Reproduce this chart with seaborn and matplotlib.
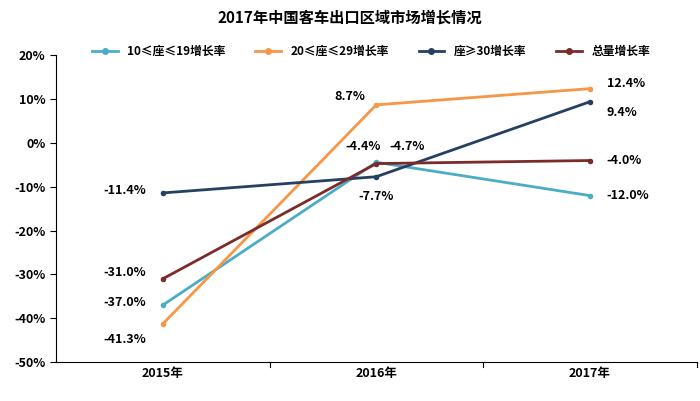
import matplotlib
matplotlib.use("Agg")
import matplotlib.pyplot as plt
import seaborn as sns
import pandas as pd

plt.rcParams["font.family"] = "Noto Sans CJK SC"

years = ["2015年", "2016年", "2017年"]
s_10_19 = [-37.0, -4.4, -12.0]
s_20_29 = [-41.3, 8.7, 12.4]
s_30 = [-11.4, -7.7, 9.4]
s_total = [-31.0, -4.7, -4.0]
names = ["10≤座≤19增长率", "20≤座≤29增长率", "座≥30增长率", "总量增长率"]
colors = ["#4BACC6", "#F79646", "#254061", "#7B2C2A"]

rows = []
for name, vals in zip(names, [s_10_19, s_20_29, s_30, s_total]):
    for i, v in enumerate(vals):
        rows.append({"x": i, "y": v, "s": name})
df = pd.DataFrame(rows)

fig = plt.figure(figsize=(7, 4.01), dpi=100)
ax = fig.add_axes([0.08, 0.097, 0.915, 0.765])
sns.lineplot(data=df, x="x", y="y", hue="s", palette=colors, marker="o",
             markersize=4, markeredgewidth=0, linewidth=2, ax=ax, legend=False)

ax.set_xlim(-0.5, 2.5)
ax.set_ylim(-50, 20)
ax.set_yticks(range(-50, 21, 10))
ax.set_yticklabels([f"{t}%" for t in range(-50, 21, 10)])
ax.set_xticks([0, 1, 2])
ax.set_xticklabels(years)
for t in ax.get_xticklabels() + ax.get_yticklabels():
    t.set_fontweight("bold")
    t.set_fontsize(9)
ax.set_xlabel("")
ax.set_ylabel("")
for sp in ["top", "right"]:
    ax.spines[sp].set_visible(False)
ax.tick_params(axis="y", length=4)
ax.tick_params(axis="x", length=0)
for xb in [0.5, 1.5, 2.5]:
    ax.plot([xb, xb], [-50, -51.2], color="black", lw=0.8, clip_on=False)

# data labels: (series, index) -> dx, dy, ha
offs = {
    (0, 0): (-0.08, 0.5, "right"), (0, 1): (0.02, 3.5, "right"), (0, 2): (0.08, 0, "left"),
    (1, 0): (-0.08, -3.5, "right"), (1, 1): (-0.05, 1.8, "right"), (1, 2): (0.08, 1.2, "left"),
    (2, 0): (-0.08, 0.5, "right"), (2, 1): (0, -4.5, "center"), (2, 2): (0.08, -2.5, "left"),
    (3, 0): (-0.08, 1.5, "right"), (3, 1): (0.06, 3.9, "left"), (3, 2): (0.08, 0, "left"),
}
for si, vals in enumerate([s_10_19, s_20_29, s_30, s_total]):
    for i, v in enumerate(vals):
        dx, dy, ha = offs[(si, i)]
        ax.text(i + dx, v + dy, f"{v:.1f}%", ha=ha, va="center",
                fontsize=9, fontweight="bold")

handles = [plt.Line2D([], [], color=c, marker="o", markersize=4, lw=2) for c in colors]
fig.legend(handles, names, loc="upper center", bbox_to_anchor=(0.53, 0.915), ncol=4,
           frameon=False, handlelength=2.2, columnspacing=2.5,
           prop={"weight": "bold", "size": 8.5})
fig.suptitle("2017年中国客车出口区域市场增长情况", x=0.5, y=0.975,
             fontsize=11, fontweight="bold")
fig.savefig("out.png", dpi=100, facecolor="white")
